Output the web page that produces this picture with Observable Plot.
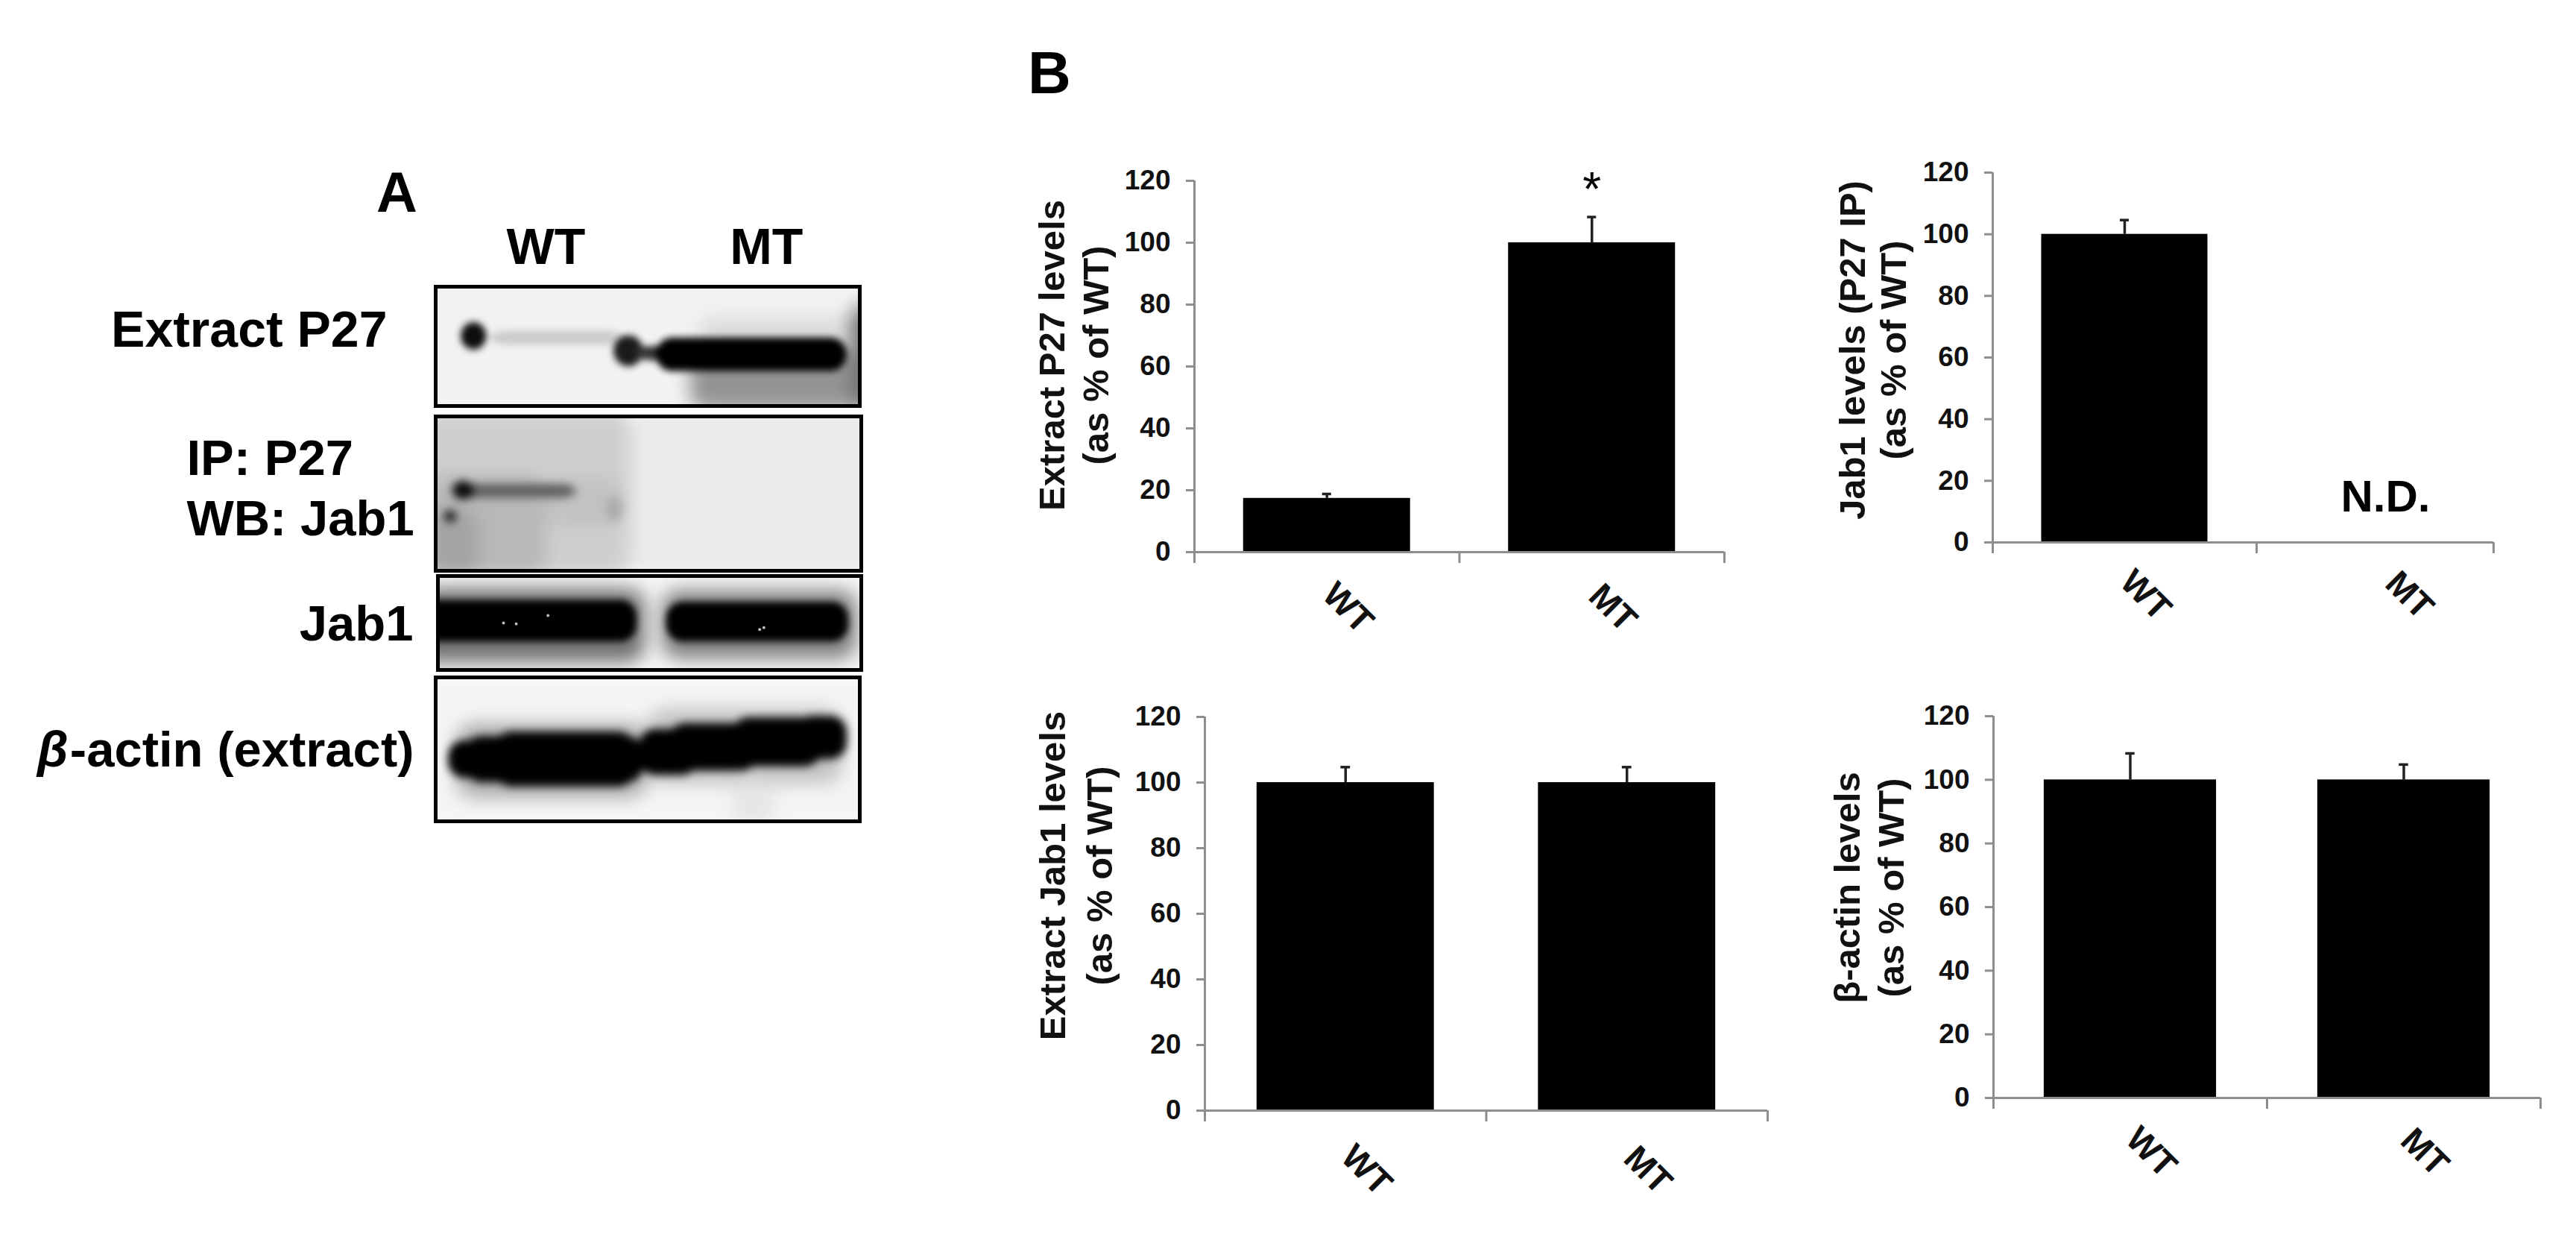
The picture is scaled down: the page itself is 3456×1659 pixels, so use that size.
<!DOCTYPE html>
<html>
<head>
<meta charset="utf-8">
<script src="https://cdn.jsdelivr.net/npm/d3@7"></script>
<script src="https://cdn.jsdelivr.net/npm/@observablehq/plot@0.6"></script>
<style>
  html, body { margin: 0; background: #fff; }
  #page { position: relative; width: 3456px; height: 1659px; overflow: hidden; background: #fff; font-family: "Liberation Sans", Arial, sans-serif; }
  #page > * { position: absolute; }
  .letter { font-weight: bold; line-height: 1; color: #000; }
</style>
</head>
<body>
<div id="page"></div>
<script>
// ---------- Panel B values ----------
const groups = ["WT", "MT"];
const yTicks = [0, 20, 40, 60, 80, 100, 120];

const extractP27Values = [17.4, 100];
const extractP27ErrTop = [18.8, 108.3];
const jab1IpValues = [100, null];
const jab1IpErrTop = [104.6, null];
const extractJab1Values = [100, 100];
const extractJab1ErrTop = [104.7, 104.7];
const betaActinValues = [100, 100];
const betaActinErrTop = [108.3, 104.8];

const extractP27Title = ["Extract P27 levels", "(as % of WT)"];
const jab1IpTitle = ["Jab1 levels (P27 IP)", "(as % of WT)"];
const extractJab1Title = ["Extract Jab1 levels", "(as % of WT)"];
const betaActinTitle = ["β-actin levels", "(as % of WT)"];

// ---------- Panel A values: x = % of blot width, y = % of blot height, shade 0 (white) – 1 (black) ----------
const blotLanes = [{label: "WT", x: 26}, {label: "MT", x: 78}];

const blot1Haze = [
  {x1: -5, x2: 105, y1: -5, y2: 105, shade: 0.05},
  {x1: 60, x2: 104, y1: 55, y2: 104, shade: 0.42},
  {x1: 62, x2: 100, y1: 26, y2: 50, shade: 0.14},
  {x1: 98, x2: 104, y1: 15, y2: 104, shade: 0.55}
];
const blot1Bands = [
  {x1: 13, x2: 44, y1: 37, y2: 49, shade: 0.2},
  {x1: 6, x2: 12, y1: 30, y2: 53, shade: 0.95},
  {x1: 42, x2: 49, y1: 41, y2: 67, shade: 0.9},
  {x1: 47, x2: 60, y1: 50, y2: 62, shade: 0.8},
  {x1: 52, x2: 97, y1: 43, y2: 71, shade: 1}
];
const blot2Haze = [
  {x1: -5, x2: 46, y1: -5, y2: 105, shade: 0.19},
  {x1: 46, x2: 105, y1: -5, y2: 105, shade: 0.08},
  {x1: -2, x2: 26, y1: 38, y2: 105, shade: 0.28},
  {x1: -2, x2: 10, y1: 60, y2: 105, shade: 0.36},
  {x1: 26, x2: 44, y1: 40, y2: 72, shade: 0.24}
];
const blot2Bands = [
  {x1: 4, x2: 33, y1: 44, y2: 53, shade: 0.62},
  {x1: 4, x2: 9, y1: 42, y2: 54, shade: 0.95},
  {x1: 2, x2: 5, y1: 61, y2: 69, shade: 0.85},
  {x1: 40, x2: 44, y1: 52, y2: 68, shade: 0.32}
];
const blot3Haze = [
  {x1: -5, x2: 105, y1: -5, y2: 105, shade: 0.05},
  {x1: -5, x2: 49, y1: 14, y2: 92, shade: 0.55},
  {x1: 53, x2: 99, y1: 16, y2: 88, shade: 0.5}
];
const blot3Bands = [
  {x1: -5, x2: 47, y1: 26, y2: 70, shade: 1},
  {x1: 54, x2: 97, y1: 28, y2: 70, shade: 1}
];
const blot3Specks = [[15.5, 50], [18.5, 51], [26, 42], [77, 55], [76, 57]];
const blot4Haze = [
  {x1: -5, x2: 105, y1: -5, y2: 105, shade: 0.04},
  {x1: 5, x2: 50, y1: 32, y2: 84, shade: 0.32},
  {x1: 50, x2: 96, y1: 22, y2: 74, shade: 0.24},
  {x1: 70, x2: 80, y1: 70, y2: 105, shade: 0.1}
];
const blot4Bands = [
  {x1: 3, x2: 48, y1: 44, y2: 70, shade: 1},
  {x1: 7, x2: 49, y1: 41, y2: 73, shade: 1},
  {x1: 14, x2: 47, y1: 38, y2: 76, shade: 1},
  {x1: 48, x2: 62, y1: 36, y2: 68, shade: 1},
  {x1: 55, x2: 76, y1: 32, y2: 65, shade: 1},
  {x1: 70, x2: 91, y1: 28, y2: 62, shade: 1},
  {x1: 85, x2: 97, y1: 27, y2: 57, shade: 1}
];
const blot4Specks = [[9, 37]];

const page = document.getElementById("page");
const FONT = "Liberation Sans";
const AXIS_GRAY = "#8d8d8d";

function place(node, left, top) {
  node.style.left = left + "px";
  node.style.top = top + "px";
  node.style.maxWidth = "none";
  page.append(node);
}

function letter(text, left, top, size) {
  const d = document.createElement("div");
  d.className = "letter";
  d.textContent = text;
  d.style.fontSize = size + "px";
  place(d, left, top);
}

// ---------- Bar chart ----------
function barChart({values, errTop, title, annotations = [], box, titleOffsets, titleCenterY, xEnd = 2, labelDrop = 75}) {
  const {x0, x1, yTop, yBottom} = box;
  const fracInset = 0.185;
  const marginLeft = 250, marginRight = 20, marginTop = 40, marginBottom = 130;
  const data = groups.map((g, i) => ({g, i, v: values[i], e: errTop[i]})).filter(d => d.v != null);
  const capHalf = 0.017;
  const frameMid = (yTop + yBottom) / 2;
  const axisStyle = {stroke: AXIS_GRAY, strokeWidth: 3};
  const chart = Plot.plot({
    width: marginLeft + (x1 - x0) + marginRight,
    height: marginTop + (yBottom - yTop) + marginBottom,
    marginLeft, marginRight, marginTop, marginBottom,
    style: {background: "transparent", fontFamily: FONT},
    x: {domain: [0, 2], axis: null},
    y: {domain: [0, 120], axis: null},
    marks: [
      Plot.ruleX(data, {x: d => d.i + 0.5, y1: "v", y2: "e", stroke: "#222", strokeWidth: 3.5}),
      Plot.ruleY(data, {y: "e", x1: d => d.i + 0.5 - capHalf, x2: d => d.i + 0.5 + capHalf, stroke: "#222", strokeWidth: 3.5}),
      Plot.rect(data, {x1: d => d.i + fracInset, x2: d => d.i + 1 - fracInset, y1: 0, y2: "v", fill: "#000"}),
      Plot.axisY({ticks: yTicks, tickSize: 11, tickPadding: 21, label: null, fontFamily: FONT, fontSize: 37, fontWeight: "bold", fill: "#111", ...axisStyle}),
      Plot.axisX({ticks: [0, 1, xEnd], tickSize: 15, tickFormat: () => "", label: null, ...axisStyle}),
      Plot.ruleX([0], axisStyle),
      Plot.ruleY([0], {x1: 0, x2: xEnd, ...axisStyle}),
      Plot.text(groups, {
        x: (d, i) => i + 0.5, frameAnchor: "bottom", rotate: 45, dx: 28, dy: labelDrop,
        lineAnchor: "middle", textAnchor: "middle", fontFamily: FONT, fontSize: 47, fontWeight: "bold", fill: "#111"
      }),
      ...title.map((line, i) => Plot.text([line], {
        frameAnchor: "left", rotate: -90, text: d => d, textAnchor: "middle", lineAnchor: "bottom",
        dx: titleOffsets[i] - x0, dy: titleCenterY - frameMid,
        fontFamily: FONT, fontSize: 49, fontWeight: "bold", fill: "#111"
      })),
      Plot.text(annotations, {
        x: "x", y: "y", text: "label", dx: annotations[0]?.dx ?? 0, textAnchor: "middle", lineAnchor: "bottom",
        fontFamily: FONT, fontSize: annotations[0]?.size ?? 40, fontWeight: annotations[0]?.weight ?? "bold", fill: "#000"
      })
    ]
  });
  place(chart, x0 - marginLeft, yTop - marginTop);
}

// ---------- Blot ----------
function blot({haze, bands, specks = [], box, extra = [], marginTop = 8, blur = 5}) {
  const {left, right, top, bottom} = box;
  const marginLeft = left, marginRight = 8, marginBottom = 8;
  const chart = Plot.plot({
    width: left + (right - left) + marginRight,
    height: marginTop + (bottom - top) + marginBottom,
    marginLeft, marginRight, marginTop, marginBottom,
    style: {background: "transparent", fontFamily: FONT, overflow: "visible"},
    x: {domain: [0, 100], axis: null},
    y: {domain: [100, 0], axis: null},
    color: {type: "linear", domain: [0, 1], range: ["#ffffff", "#000000"]},
    marks: [
      Plot.rect(haze, {x1: "x1", x2: "x2", y1: "y1", y2: "y2", fill: "shade", rx: 24, clip: "frame", imageFilter: "blur(12px)"}),
      Plot.rect(bands, {x1: "x1", x2: "x2", y1: "y1", y2: "y2", fill: "shade", rx: 22, clip: "frame", imageFilter: `blur(${blur}px)`}),
      Plot.dot(specks, {x: d => d[0], y: d => d[1], r: 2, fill: "#bbb"}),
      Plot.frame({stroke: "#000", strokeWidth: 5}),
      ...extra
    ]
  });
  place(chart, 0, top - marginTop);
}

function rowLabel(text, y, dx, opts = {}) {
  return Plot.text([text], {
    x: 0, y, text: d => d, dx, textAnchor: "end", lineAnchor: "bottom",
    fontFamily: FONT, fontSize: 67, fontWeight: "bold", fill: "#000", ...opts
  });
}

blot({
  haze: blot1Haze, bands: blot1Bands, marginTop: 100,
  box: {left: 584, right: 1153, top: 384, bottom: 544},
  extra: [
    Plot.text(blotLanes, {x: "x", text: "label", frameAnchor: "top", dy: -31, lineAnchor: "bottom", textAnchor: "middle", fontFamily: FONT, fontSize: 68, fontWeight: "bold", fill: "#000"}),
    rowLabel("Extract P27", 50.6, -65, {fontSize: 68})
  ]
});
blot({
  haze: blot2Haze, bands: blot2Bands, blur: 6,
  box: {left: 584, right: 1155, top: 558, bottom: 765},
  extra: [
    rowLabel("IP: P27", 37.7, -334, {textAnchor: "start"}),
    rowLabel("WB: Jab1", 77, -334, {textAnchor: "start"})
  ]
});
blot({
  haze: blot3Haze, bands: blot3Bands, specks: blot3Specks,
  box: {left: 587, right: 1155, top: 772, bottom: 898},
  extra: [rowLabel("Jab1", 69, -33)]
});
blot({
  haze: blot4Haze, bands: blot4Bands, specks: blot4Specks, blur: 6,
  box: {left: 584, right: 1153, top: 908, bottom: 1101},
  extra: [
    rowLabel("-actin (extract)", 62, -29),
    rowLabel("β", 62, -493, {fontStyle: "italic"})
  ]
});

letter("A", 505, 220, 76);
letter("B", 1379, 58, 80);

barChart({
  values: extractP27Values, errTop: extractP27ErrTop, title: extractP27Title,
  box: {x0: 1602, x1: 2313, yTop: 242, yBottom: 740},
  titleOffsets: [1427, 1486], titleCenterY: 476,
  annotations: [{label: "*", x: 1.5, y: 112, size: 64, weight: "normal"}]
});
barChart({
  values: jab1IpValues, errTop: jab1IpErrTop, title: jab1IpTitle,
  box: {x0: 2673, x1: 3381, yTop: 231, yBottom: 727}, xEnd: 1.898, labelDrop: 71,
  titleOffsets: [2501, 2556], titleCenterY: 469,
  annotations: [{label: "N.D.", x: 1.5, y: 10, dx: -4, size: 60, weight: "bold"}]
});
barChart({
  values: extractJab1Values, errTop: extractJab1ErrTop, title: extractJab1Title, labelDrop: 80,
  box: {x0: 1616, x1: 2371, yTop: 961, yBottom: 1489},
  titleOffsets: [1428, 1491], titleCenterY: 1174
});
barChart({
  values: betaActinValues, errTop: betaActinErrTop, title: betaActinTitle, labelDrop: 73,
  box: {x0: 2674, x1: 3408, yTop: 960, yBottom: 1472},
  titleOffsets: [2494, 2553], titleCenterY: 1190
});
</script>
</body>
</html>
